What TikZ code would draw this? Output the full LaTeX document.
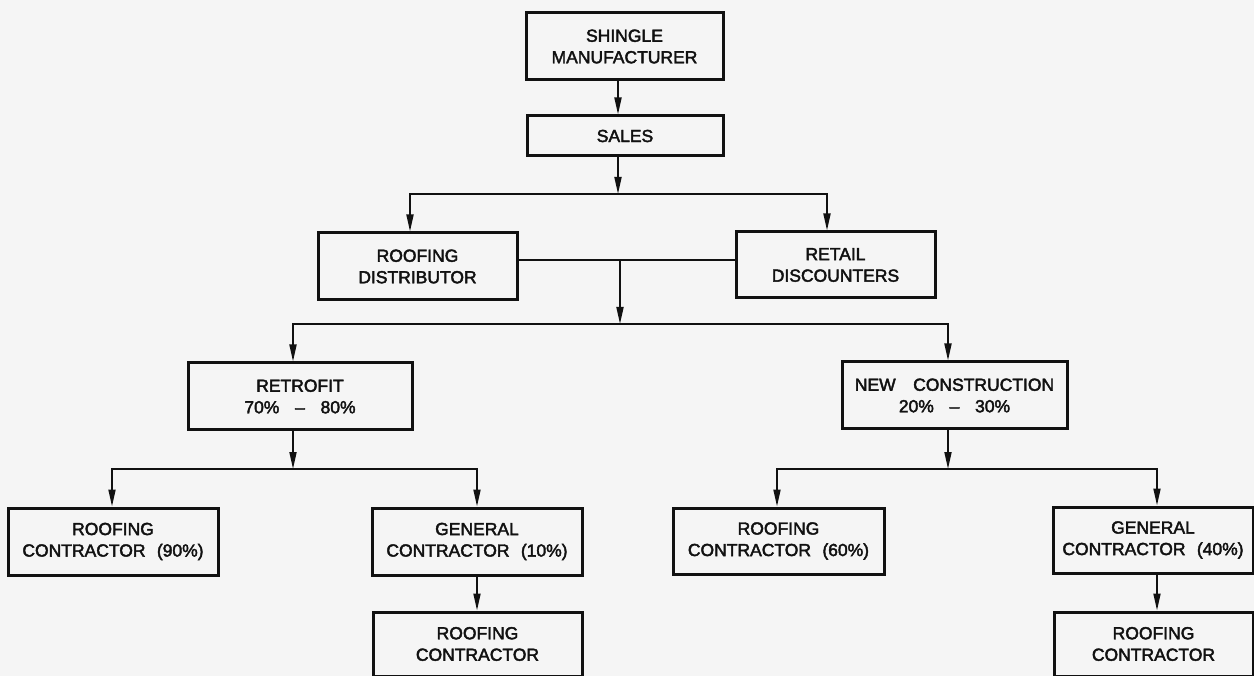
\documentclass[tikz,border=0pt]{standalone}
\usepackage{fontspec}
\setmainfont{Liberation Sans}
\newfontfamily\lblface{Liberation Sans}[FakeBold=2.4,Ligatures=TeX]
\usetikzlibrary{arrows.meta,calc}
\definecolor{paper}{HTML}{F5F5F5}
\definecolor{ink}{HTML}{111111}
\newcommand{\lblfont}{\lblface\fontsize{17.5}{21.5}\selectfont}
\newcommand{\gap}{\hspace{0.65em}}
\newcommand{\range}[2]{#1\%\hspace{0.9em}\textendash\hspace{0.9em}#2\%}
\begin{document}
\begin{tikzpicture}[x=1pt,y=-1pt,
  box/.style={draw=ink,line width=3pt,inner sep=0pt,align=center,font=\lblfont,text=ink},
  link/.style={draw=ink,line width=1.8pt},
  feed/.style={link,-{Triangle[length=17pt,width=7pt]}}]
\useasboundingbox (0,0) rectangle (1254,676);
\fill[paper] (0,0) rectangle (1254,676);
\clip (0,0) rectangle (1254,676);

% boxes
\node[box,minimum width=197pt,minimum height=67pt] (man) at (624.5,46.5) {SHINGLE\\MANUFACTURER};
\node[box,minimum width=196pt,minimum height=40pt] (sales) at (625,136) {SALES};
\node[box,minimum width=199pt,minimum height=67pt] (dist) at (417.5,266.5) {ROOFING\\DISTRIBUTOR};
\node[box,minimum width=199pt,minimum height=66pt] (retail) at (835.5,265) {RETAIL\\DISCOUNTERS};
\node[box,minimum width=224pt,minimum height=67pt] (retro) at (300,396.5) {RETROFIT\\\range{70}{80}};
\node[box,minimum width=225pt,minimum height=67pt] (newc) at (954.5,395.5) {NEW\hspace{1em}CONSTRUCTION\\\range{20}{30}};
\node[box,minimum width=210pt,minimum height=67pt] (rc90) at (113,541.5) {ROOFING\\CONTRACTOR\gap(90\%)};
\node[box,minimum width=210pt,minimum height=67pt] (gc10) at (477,541.5) {GENERAL\\CONTRACTOR\gap(10\%)};
\node[box,minimum width=209pt,minimum height=64pt] (rcA) at (477.5,644) {ROOFING\\CONTRACTOR};
\node[box,minimum width=211pt,minimum height=66pt] (rc60) at (778.5,541) {ROOFING\\CONTRACTOR\gap(60\%)};
\node[box,minimum width=200pt,minimum height=66pt] (gc40) at (1153,540) {GENERAL\\CONTRACTOR\gap(40\%)};
\node[box,minimum width=199pt,minimum height=64pt] (rcB) at (1153.5,644) {ROOFING\\CONTRACTOR};

% bus points
\coordinate (b1) at (618,194);  \coordinate (b1l) at (410,194); \coordinate (b1r) at (827,194);
\coordinate (j2) at (620,260);
\coordinate (b2) at (620,324);  \coordinate (b2l) at (293,324); \coordinate (b2r) at (948,324);
\coordinate (b3) at (293,469);  \coordinate (b3l) at (112,469); \coordinate (b3r) at (477,469);
\coordinate (b4) at (948,469);  \coordinate (b4l) at (777,469); \coordinate (b4r) at (1157,469);

% connectors
\draw[feed] (man.south -| b1) -- (sales.north -| b1);
\draw[feed] (sales.south -| b1) -- (b1);
\draw[feed] (b1) -- (b1l) -- (dist.north -| b1l);
\draw[feed] (b1) -- (b1r) -- (retail.north -| b1r);

\draw[link] (dist.east |- j2) -- (retail.west |- j2);
\draw[feed] (j2) -- (b2);
\draw[feed] (b2) -- (b2l) -- (retro.north -| b2l);
\draw[feed] (b2) -- (b2r) -- (newc.north -| b2r);

\draw[feed] (retro.south -| b3) -- (b3);
\draw[feed] (b3) -- (b3l) -- (rc90.north -| b3l);
\draw[feed] (b3) -- (b3r) -- (gc10.north -| b3r);
\draw[feed] (gc10.south -| b3r) -- (rcA.north -| b3r);

\draw[feed] (newc.south -| b4) -- (b4);
\draw[feed] (b4) -- (b4l) -- (rc60.north -| b4l);
\draw[feed] (b4) -- (b4r) -- (gc40.north -| b4r);
\draw[feed] (gc40.south -| b4r) -- (rcB.north -| b4r);
\end{tikzpicture}
\end{document}
